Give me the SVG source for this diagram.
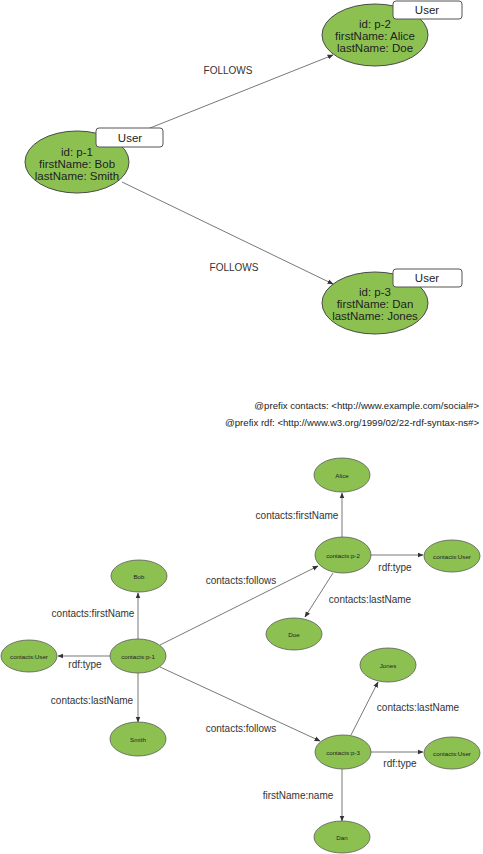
<svg xmlns="http://www.w3.org/2000/svg" width="483" height="854" viewBox="0 0 483 854">
<defs>
<style>
text{font-family:"Liberation Sans",Arial,sans-serif;fill:#222}
.big{fill:#8cc152;stroke:#4a4a4a;stroke-width:1}
.sm{fill:#8cc152;stroke:#5a5a5a;stroke-width:0.8}
.lab{fill:#fff;stroke:#555;stroke-width:1}
.t11{font-size:11.5px;text-anchor:middle}
.t7{font-size:6.2px;text-anchor:middle}
.e{font-size:10px;text-anchor:middle;fill:#333}
.edge{stroke:#555;stroke-width:0.8;fill:none;marker-end:url(#ah)}
</style>
<marker id="ah" viewBox="0 0 10 10" refX="9" refY="5" markerWidth="6" markerHeight="6" orient="auto" markerUnits="userSpaceOnUse">
<path d="M0,1 L10,5 L0,9 z" fill="#333"/>
</marker>
</defs>
<rect width="483" height="854" fill="#fff"/>
<g id="connectors">
<line class="edge" x1="120" y1="140" x2="333" y2="55"/>
<line class="edge" x1="122" y1="182" x2="333" y2="284"/>
<line class="edge" x1="138" y1="639" x2="138" y2="593"/>
<line class="edge" x1="110" y1="656" x2="58" y2="656"/>
<line class="edge" x1="138" y1="673" x2="138" y2="722"/>
<line class="edge" x1="160" y1="645" x2="318" y2="566"/>
<line class="edge" x1="160" y1="667" x2="320" y2="741"/>
<line class="edge" x1="342" y1="537" x2="342" y2="493"/>
<line class="edge" x1="371" y1="555" x2="423" y2="555"/>
<line class="edge" x1="333" y1="573" x2="305" y2="617"/>
<line class="edge" x1="351" y1="735" x2="378" y2="682"/>
<line class="edge" x1="371" y1="752" x2="423" y2="752"/>
<line class="edge" x1="342" y1="769" x2="342" y2="821"/>
<text class="e" x="228" y="74">FOLLOWS</text>
<text class="e" x="234" y="271">FOLLOWS</text>
<text class="e" x="93" y="617">contacts:firstName</text>
<text class="e" x="85" y="668">rdf:type</text>
<text class="e" x="92" y="704">contacts:lastName</text>
<text class="e" x="241" y="584">contacts:follows</text>
<text class="e" x="241" y="732">contacts:follows</text>
<text class="e" x="297" y="519">contacts:firstName</text>
<text class="e" x="395" y="571">rdf:type</text>
<text class="e" x="370" y="603">contacts:lastName</text>
<text class="e" x="418" y="711">contacts:lastName</text>
<text class="e" x="400" y="767">rdf:type</text>
<text class="e" x="298" y="799">firstName:name</text>
</g>
<g id="n-p1">
<ellipse class="big" cx="77" cy="162" rx="52" ry="31"/>
<rect class="lab" x="96" y="128" width="67" height="19" rx="3"/>
<text class="t11" x="130" y="141.5">User</text>
<text class="t11" x="77" y="156">id: p-1</text>
<text class="t11" x="77" y="168">firstName: Bob</text>
<text class="t11" x="77" y="180">lastName: Smith</text>
</g>
<g id="n-p2">
<ellipse class="big" cx="375" cy="35" rx="53" ry="31"/>
<rect class="lab" x="393" y="1" width="69" height="18" rx="3"/>
<text class="t11" x="427" y="14">User</text>
<text class="t11" x="375" y="28">id: p-2</text>
<text class="t11" x="375" y="40">firstName: Alice</text>
<text class="t11" x="375" y="52">lastName: Doe</text>
</g>
<g id="n-p3">
<ellipse class="big" cx="375" cy="303" rx="53" ry="31"/>
<rect class="lab" x="393" y="269" width="69" height="18" rx="3"/>
<text class="t11" x="427" y="282">User</text>
<text class="t11" x="375" y="296">id: p-3</text>
<text class="t11" x="375" y="308">firstName: Dan</text>
<text class="t11" x="375" y="320">lastName: Jones</text>
</g>
<g id="prefixes">
<text x="479" y="409" style="font-size:9.6px;text-anchor:end">@prefix contacts: &lt;http://www.example.com/social#&gt;</text>
<text x="479" y="426" style="font-size:9.6px;text-anchor:end">@prefix rdf: &lt;http://www.w3.org/1999/02/22-rdf-syntax-ns#&gt;</text>
</g>
<g id="c-p1"><ellipse class="sm" cx="138" cy="656" rx="28" ry="17"/><text class="t7" x="138" y="658.5">contacts:p-1</text></g>
<g id="c-user1"><ellipse class="sm" cx="29" cy="656" rx="28" ry="16"/><text class="t7" x="29" y="658.5">contacts:User</text></g>
<g id="c-bob"><ellipse class="sm" cx="139" cy="576" rx="28" ry="16"/><text class="t7" x="139" y="578.5">Bob</text></g>
<g id="c-smith"><ellipse class="sm" cx="138" cy="739" rx="28" ry="17"/><text class="t7" x="138" y="741.5">Smith</text></g>
<g id="c-p2"><ellipse class="sm" cx="343" cy="555" rx="28" ry="18"/><text class="t7" x="343" y="557.5">contacts:p-2</text></g>
<g id="c-alice"><ellipse class="sm" cx="342" cy="475" rx="28" ry="17"/><text class="t7" x="342" y="477.5">Alice</text></g>
<g id="c-user2"><ellipse class="sm" cx="452" cy="556" rx="28" ry="16"/><text class="t7" x="452" y="558.5">contacts:User</text></g>
<g id="c-doe"><ellipse class="sm" cx="294" cy="634" rx="28" ry="16"/><text class="t7" x="294" y="636.5">Doe</text></g>
<g id="c-p3"><ellipse class="sm" cx="343" cy="752" rx="28" ry="17"/><text class="t7" x="343" y="754.5">contacts:p-3</text></g>
<g id="c-jones"><ellipse class="sm" cx="388" cy="665" rx="28" ry="17"/><text class="t7" x="388" y="667.5">Jones</text></g>
<g id="c-user3"><ellipse class="sm" cx="452" cy="753" rx="28" ry="16"/><text class="t7" x="452" y="755.5">contacts:User</text></g>
<g id="c-dan"><ellipse class="sm" cx="342" cy="837" rx="28" ry="16"/><text class="t7" x="342" y="839.5">Dan</text></g>
</svg>
